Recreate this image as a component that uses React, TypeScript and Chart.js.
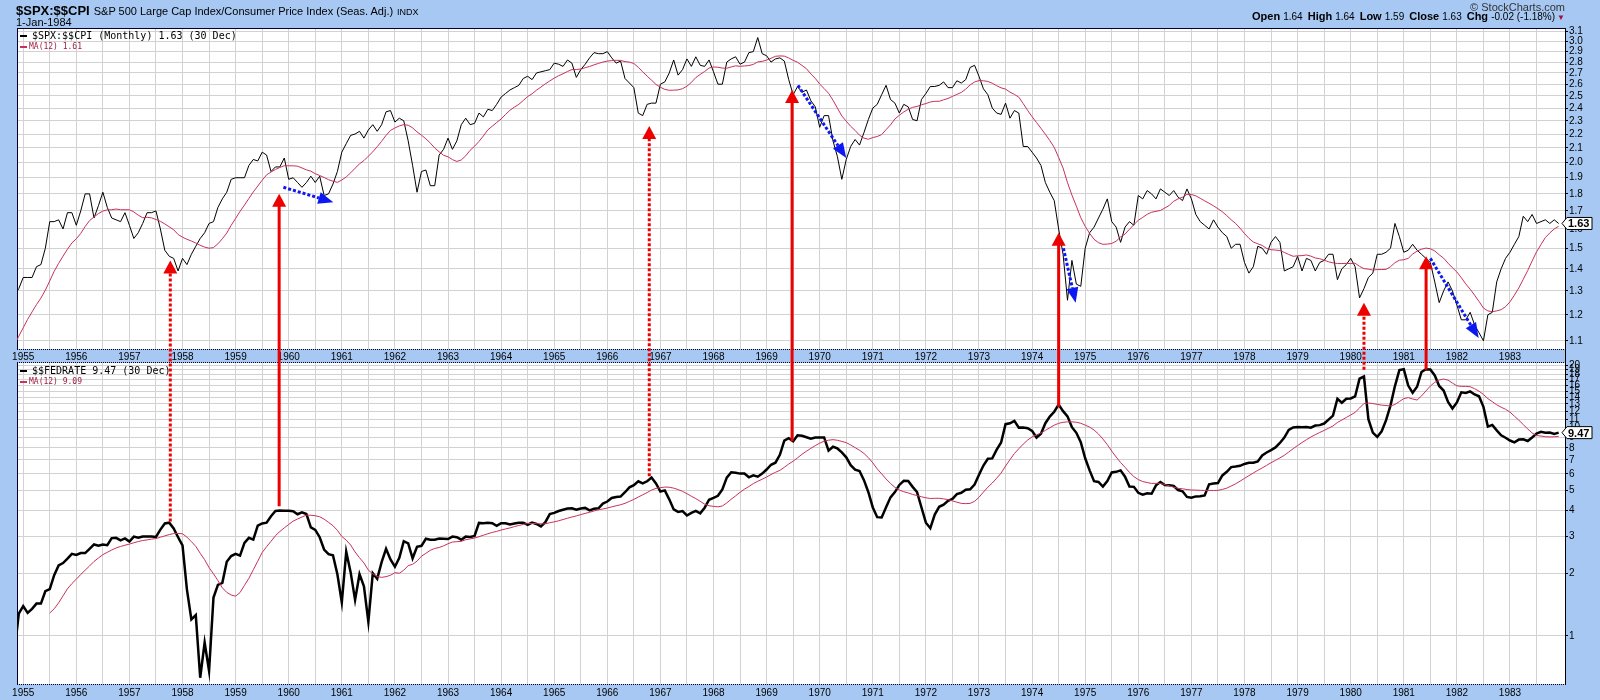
import React, { useEffect, useRef } from 'react';
import { Chart, registerables } from 'chart.js';

Chart.register(...registerables);

// ---------------- data ----------------
const ratioStartYear = 1953;
const ratioStartMonth = 12;
const ratioValues: number[] = [
  0.92,
  0.97, 0.97, 1.00, 1.05, 1.09, 1.09, 1.15, 1.11, 1.20, 1.18, 1.28, 1.31,
  1.36, 1.36, 1.36, 1.41, 1.42, 1.50, 1.64, 1.64, 1.65, 1.60, 1.69, 1.69,
  1.62, 1.70, 1.80, 1.80, 1.66, 1.73, 1.81, 1.72, 1.66, 1.65, 1.64, 1.69,
  1.62, 1.55, 1.58, 1.63, 1.69, 1.69, 1.70, 1.60, 1.49, 1.46, 1.45, 1.39,
  1.45, 1.42, 1.47, 1.51, 1.55, 1.58, 1.63, 1.64, 1.72, 1.77, 1.81, 1.89,
  1.90, 1.90, 1.90, 1.98, 2.02, 2.01, 2.07, 2.05, 1.94, 1.97, 1.97, 2.03,
  1.89, 1.90, 1.87, 1.84, 1.87, 1.91, 1.87, 1.91, 1.79, 1.80, 1.86, 1.94,
  2.07, 2.13, 2.19, 2.20, 2.22, 2.17, 2.23, 2.27, 2.22, 2.27, 2.37, 2.38,
  2.29, 2.32, 2.30, 2.15, 1.98, 1.81, 1.94, 1.95, 1.85, 1.85, 2.05, 2.09,
  2.17, 2.09, 2.15, 2.27, 2.32, 2.27, 2.28, 2.36, 2.33, 2.39, 2.38, 2.43,
  2.49, 2.52, 2.55, 2.57, 2.59, 2.65, 2.67, 2.64, 2.70, 2.71, 2.72, 2.73,
  2.79, 2.78, 2.76, 2.82, 2.79, 2.66, 2.73, 2.78, 2.84, 2.89, 2.88, 2.88,
  2.90, 2.84, 2.79, 2.81, 2.65, 2.61, 2.57, 2.36, 2.34, 2.43, 2.44, 2.44,
  2.60, 2.62, 2.70, 2.82, 2.68, 2.73, 2.83, 2.76, 2.85, 2.77, 2.76, 2.82,
  2.71, 2.60, 2.60, 2.80, 2.83, 2.85, 2.78, 2.80, 2.89, 2.90, 3.04, 2.88,
  2.86, 2.80, 2.83, 2.84, 2.81, 2.64, 2.51, 2.58, 2.53, 2.55, 2.46, 2.41,
  2.25, 2.34, 2.34, 2.15, 2.04, 1.89, 2.02, 2.11, 2.16, 2.12, 2.21, 2.31,
  2.40, 2.43, 2.51, 2.59, 2.47, 2.44, 2.36, 2.43, 2.41, 2.31, 2.30, 2.47,
  2.52, 2.58, 2.58, 2.59, 2.62, 2.57, 2.57, 2.63, 2.61, 2.64, 2.75, 2.77,
  2.67, 2.56, 2.51, 2.40, 2.36, 2.35, 2.44, 2.32, 2.38, 2.36, 2.11, 2.11,
  2.07, 2.03, 1.98, 1.87, 1.81, 1.76, 1.60, 1.47, 1.26, 1.44, 1.33, 1.32,
  1.50, 1.58, 1.61, 1.66, 1.71, 1.77, 1.64, 1.61, 1.53, 1.61, 1.64, 1.62,
  1.79, 1.77, 1.82, 1.80, 1.77, 1.83, 1.81, 1.79, 1.82, 1.78, 1.76, 1.83,
  1.77, 1.68, 1.64, 1.62, 1.60, 1.65, 1.61, 1.58, 1.56, 1.50, 1.52, 1.52,
  1.43, 1.38, 1.41, 1.51, 1.50, 1.47, 1.53, 1.56, 1.53, 1.39, 1.40, 1.41,
  1.46, 1.39, 1.45, 1.44, 1.39, 1.43, 1.44, 1.47, 1.47, 1.35, 1.40, 1.42,
  1.45, 1.41, 1.27, 1.31, 1.36, 1.38, 1.47, 1.47, 1.48, 1.50, 1.63, 1.56,
  1.48, 1.49, 1.52, 1.49, 1.47, 1.45, 1.43, 1.34, 1.25, 1.30, 1.34, 1.30,
  1.24, 1.18, 1.18, 1.21, 1.16, 1.13, 1.10, 1.20, 1.21, 1.34, 1.40, 1.45,
  1.48, 1.52, 1.56, 1.67, 1.64, 1.68, 1.63, 1.64, 1.65, 1.63, 1.65, 1.63,
];

const fedStartYear = 1954;
const fedStartMonth = 8;
const fedValues: number[] = [
  1.22, 1.07, 0.85, 0.83, 1.28,
  1.39, 1.29, 1.35, 1.43, 1.43, 1.64, 1.68, 1.96, 2.18, 2.24, 2.35, 2.48,
  2.45, 2.50, 2.50, 2.62, 2.75, 2.71, 2.75, 2.73, 2.95, 2.96, 2.88, 2.94,
  2.84, 3.00, 2.96, 3.00, 3.00, 3.00, 2.99, 3.24, 3.47, 3.50, 3.28, 2.98,
  2.72, 1.67, 1.20, 1.26, 0.63, 0.93, 0.68, 1.53, 1.76, 1.80, 2.27, 2.42,
  2.48, 2.43, 2.80, 2.96, 2.90, 3.39, 3.47, 3.50, 3.76, 3.98, 4.00, 3.99,
  3.99, 3.97, 3.84, 3.92, 3.85, 3.32, 3.23, 2.98, 2.60, 2.47, 2.44, 1.98,
  1.45, 2.54, 2.02, 1.49, 1.98, 1.73, 1.17, 2.00, 1.88, 2.26, 2.62, 2.33,
  2.15, 2.37, 2.85, 2.78, 2.36, 2.68, 2.71, 2.93, 2.90, 2.90, 2.94, 2.93,
  2.92, 3.00, 2.98, 2.90, 3.00, 2.99, 3.02, 3.49, 3.48, 3.50, 3.48, 3.38,
  3.48, 3.48, 3.43, 3.47, 3.50, 3.50, 3.42, 3.50, 3.45, 3.36, 3.52, 3.85,
  3.90, 3.98, 4.04, 4.09, 4.10, 4.04, 4.09, 4.12, 4.01, 4.08, 4.10, 4.32,
  4.42, 4.60, 4.65, 4.67, 4.90, 5.17, 5.30, 5.53, 5.40, 5.53, 5.76, 5.40,
  4.94, 5.00, 4.53, 4.05, 3.94, 3.98, 3.79, 3.90, 3.99, 3.88, 4.13, 4.51,
  4.60, 4.71, 5.05, 5.76, 6.11, 6.07, 6.02, 6.03, 5.78, 5.91, 5.82, 6.02,
  6.30, 6.64, 6.79, 7.41, 8.67, 8.90, 8.61, 9.19, 9.15, 9.00, 8.85, 8.97,
  8.98, 8.98, 7.76, 8.10, 7.95, 7.61, 7.21, 6.61, 6.29, 6.20, 5.60, 4.90,
  4.14, 3.72, 3.71, 4.15, 4.63, 4.91, 5.31, 5.56, 5.55, 5.20, 4.91, 4.14,
  3.50, 3.29, 3.83, 4.17, 4.27, 4.46, 4.55, 4.80, 4.87, 5.04, 5.06, 5.33,
  5.94, 6.58, 7.09, 7.12, 7.84, 8.49, 10.40, 10.50, 10.78, 10.01, 10.03, 9.95,
  9.65, 8.97, 9.35, 10.51, 11.31, 11.93, 12.92, 12.01, 11.34, 10.06, 9.45, 8.53,
  7.13, 6.24, 5.54, 5.49, 5.22, 5.55, 6.10, 6.14, 6.24, 5.82, 5.22, 5.20,
  4.87, 4.77, 4.84, 4.82, 5.29, 5.48, 5.31, 5.29, 5.25, 5.02, 4.95, 4.65,
  4.61, 4.68, 4.69, 4.73, 5.35, 5.39, 5.42, 5.90, 6.14, 6.47, 6.51, 6.56,
  6.70, 6.78, 6.79, 6.89, 7.36, 7.60, 7.81, 8.04, 8.45, 8.96, 9.76, 10.03,
  10.07, 10.06, 10.09, 10.01, 10.24, 10.29, 10.47, 10.94, 11.43, 13.77, 13.18, 13.78,
  13.82, 14.13, 17.19, 17.61, 10.98, 9.47, 9.03, 9.61, 10.87, 12.81, 15.85, 18.90,
  19.08, 15.93, 14.70, 15.72, 18.52, 19.10, 19.04, 17.82, 15.87, 15.08, 13.31, 12.37,
  13.22, 14.78, 14.68, 14.94, 14.45, 14.15, 12.59, 10.12, 10.31, 9.71, 9.20, 8.95,
  8.68, 8.51, 8.77, 8.80, 8.63, 8.98, 9.37, 9.56, 9.45, 9.48, 9.34, 9.47,
];

const maPeriod = 12;

const yearLabels = [
  1955, 1956, 1957, 1958, 1959, 1960, 1961, 1962, 1963, 1964, 1965, 1966, 1967, 1968, 1969,
  1970, 1971, 1972, 1973, 1974, 1975, 1976, 1977, 1978, 1979, 1980, 1981, 1982, 1983,
];
const ratioTicks = [1.1, 1.2, 1.3, 1.4, 1.5, 1.6, 1.7, 1.8, 1.9, 2.0, 2.1, 2.2, 2.3, 2.4, 2.5, 2.6, 2.7, 2.8, 2.9, 3.0, 3.1];
const fedTicks = [1, 2, 3, 4, 5, 6, 7, 8, 9, 10, 11, 12, 13, 14, 15, 16, 17, 18, 19, 20];

const xMin = 1954.883;
const xMax = 1984.036;
const ratioMin = 1.07;
const ratioMax = 3.139;
const fedMin = 0.588;
const fedMax = 20.45;

// red arrows: from a FEDRATE value (lower panel) up to a ratio value (upper panel)
const redArrowDate = [1957.77, 1959.82, 1966.79, 1969.48, 1974.5, 1980.25, 1981.42];
const redArrowFrom = [3.55, 4.2, 5.85, 8.6, 12.6, 19.0, 19.0];
const redArrowTo = [1.44, 1.8, 2.26, 2.55, 1.58, 1.25, 1.46];
const redArrowDotted = [true, false, true, false, false, true, false];

// blue dotted arrows in the upper panel
const blueFromDate = [1959.9, 1969.59, 1974.59, 1981.5];
const blueFromValue = [1.84, 2.59, 1.5, 1.45];
const blueToDate = [1960.84, 1970.5, 1974.82, 1982.41];
const blueToValue = [1.75, 2.03, 1.25, 1.11];

// texts
const titleSymbol = '$SPX:$$CPI';
const titleName = 'S&P 500 Large Cap Index/Consumer Price Index (Seas. Adj.)';
const titleExchange = 'INDX';
const titleDate = '1-Jan-1984';
const creditText = '\u00a9 StockCharts.com';
const quoteLabels = ['Open', 'High', 'Low', 'Close', 'Chg'];
const quoteValues = ['1.64', '1.64', '1.59', '1.63', '-0.02 (-1.18%)'];
const legendTop = ['$SPX:$$CPI (Monthly) 1.63 (30 Dec)', 'MA(12) 1.61'];
const legendBottom = ['$$FEDRATE 9.47 (30 Dec)', 'MA(12) 9.09'];

// ---------------- styling ----------------
const BG = '#a6c8f2';
const GRID = '#d2d2d2';
const RED = '#ec0000';
const BLUE = '#0b18f2';
const MA_COLOR = '#c8325a';
const MA_TEXT = '#9c1c3c';
const SANS = "'Liberation Sans', Arial, sans-serif";
const MONO = "'DejaVu Sans Mono', monospace";

function monthSeries(year: number, month: number, values: number[]) {
  const x0 = year + (month - 1) / 12;
  return values.map((v, i) => ({ x: x0 + i / 12, y: v }));
}

function movingAverage(points: { x: number; y: number }[], n: number) {
  return points.map((p, i) => {
    if (i < n - 1) return { x: p.x, y: null as any };
    let s = 0;
    for (let k = i - n + 1; k <= i; k++) s += points[k].y;
    return { x: p.x, y: s / n };
  });
}

const halfYearTicks = yearLabels.flatMap((y) => [y, y + 0.5]);

const panelDecor = {
  id: 'panelDecor',
  beforeDraw(chart: any) {
    const { ctx, chartArea: ca, scales } = chart;
    const t = scales.yTop;
    const b = scales.yBot;
    ctx.save();
    ctx.fillStyle = '#ffffff';
    ctx.fillRect(ca.left, t.top, ca.right - ca.left, t.bottom - t.top);
    ctx.fillRect(ca.left, b.top, ca.right - ca.left, b.bottom - b.top);
    ctx.restore();
  },
  beforeDatasetsDraw(chart: any) {
    const { ctx, chartArea: ca, scales } = chart;
    const g = scales.yGap;
    const x = scales.x;
    const t = scales.yTop;
    const b = scales.yBot;
    ctx.save();
    ctx.fillStyle = BG;
    ctx.fillRect(ca.left, g.top, ca.right - ca.left, g.bottom - g.top);
    // dotted band borders
    ctx.strokeStyle = '#00002a';
    ctx.lineWidth = 1;
    ctx.setLineDash([1, 1]);
    ctx.beginPath();
    [g.top + 0.5, g.bottom - 0.5, ca.bottom + 0.5].forEach((yy: number) => {
      ctx.moveTo(ca.left, yy);
      ctx.lineTo(ca.right, yy);
    });
    ctx.stroke();
    ctx.setLineDash([]);
    // solid borders
    ctx.beginPath();
    ctx.moveTo(ca.left + 0.5, t.top);
    ctx.lineTo(ca.left + 0.5, t.bottom);
    ctx.moveTo(ca.left + 0.5, b.top);
    ctx.lineTo(ca.left + 0.5, b.bottom);
    ctx.moveTo(ca.left, t.top + 0.5);
    ctx.lineTo(ca.right, t.top + 0.5);
    ctx.stroke();
    // year labels in the middle band
    ctx.fillStyle = '#000';
    ctx.font = `10px ${SANS}`;
    ctx.textAlign = 'center';
    ctx.textBaseline = 'middle';
    yearLabels.forEach((yr) => {
      ctx.fillText(String(yr), x.getPixelForValue(yr), (g.top + g.bottom) / 2 + 1);
    });
    ctx.restore();
  },
  afterDatasetsDraw(chart: any) {
    const { ctx, chartArea: ca, scales } = chart;
    const x = scales.x;
    const t = scales.yTop;
    const b = scales.yBot;
    ctx.save();

    // legends
    const drawLegend = (top: number, lines: string[], mainColor: string) => {
      ctx.fillStyle = mainColor;
      ctx.fillRect(ca.left + 3, top + 7, 7, 2);
      ctx.fillStyle = MA_COLOR;
      ctx.fillRect(ca.left + 3, top + 18, 7, 2);
      ctx.textAlign = 'left';
      ctx.textBaseline = 'middle';
      ctx.fillStyle = '#000';
      ctx.font = `10px ${MONO}`;
      ctx.fillText(lines[0], ca.left + 15, top + 8);
      ctx.fillStyle = MA_TEXT;
      ctx.font = `8px ${MONO}`;
      ctx.fillText(lines[1], ca.left + 12, top + 19);
    };
    drawLegend(t.top, legendTop, '#000');
    drawLegend(b.top, legendBottom, '#000');

    // red arrows
    ctx.strokeStyle = RED;
    ctx.fillStyle = RED;
    ctx.lineWidth = 3;
    redArrowDate.forEach((d, i) => {
      const px = x.getPixelForValue(d);
      const y0 = b.getPixelForValue(redArrowFrom[i]);
      const y1 = t.getPixelForValue(redArrowTo[i]);
      ctx.setLineDash(redArrowDotted[i] ? [3, 2] : []);
      ctx.beginPath();
      ctx.moveTo(px, y0);
      ctx.lineTo(px, y1 + 11);
      ctx.stroke();
      ctx.setLineDash([]);
      ctx.beginPath();
      ctx.moveTo(px, y1);
      ctx.lineTo(px - 7, y1 + 13);
      ctx.lineTo(px + 7, y1 + 13);
      ctx.closePath();
      ctx.fill();
    });

    // blue arrows
    ctx.strokeStyle = BLUE;
    ctx.fillStyle = BLUE;
    blueFromDate.forEach((d, i) => {
      const x0 = x.getPixelForValue(d);
      const y0 = t.getPixelForValue(blueFromValue[i]);
      const x1 = x.getPixelForValue(blueToDate[i]);
      const y1 = t.getPixelForValue(blueToValue[i]);
      const len = Math.hypot(x1 - x0, y1 - y0);
      const ux = (x1 - x0) / len;
      const uy = (y1 - y0) / len;
      const head = 15;
      const hw = 6;
      ctx.setLineDash([3, 2]);
      ctx.beginPath();
      ctx.moveTo(x0, y0);
      ctx.lineTo(x1 - ux * head, y1 - uy * head);
      ctx.stroke();
      ctx.setLineDash([]);
      const bx = x1 - ux * head;
      const by = y1 - uy * head;
      ctx.beginPath();
      ctx.moveTo(x1, y1);
      ctx.lineTo(bx - uy * hw, by + ux * hw);
      ctx.lineTo(bx + uy * hw, by - ux * hw);
      ctx.closePath();
      ctx.fill();
    });

    // last value tags
    const tag = (y: number, text: string) => {
      const xl = ca.right;
      ctx.beginPath();
      ctx.moveTo(xl - 3, y);
      ctx.lineTo(xl + 2, y - 6);
      ctx.lineTo(xl + 27, y - 6);
      ctx.lineTo(xl + 27, y + 6);
      ctx.lineTo(xl + 2, y + 6);
      ctx.closePath();
      ctx.fillStyle = '#fff';
      ctx.fill();
      ctx.strokeStyle = '#000';
      ctx.lineWidth = 1;
      ctx.stroke();
      ctx.fillStyle = '#000';
      ctx.font = `bold 11px ${SANS}`;
      ctx.textAlign = 'left';
      ctx.textBaseline = 'middle';
      ctx.fillText(text, xl + 3, y + 1);
    };
    const lastRatio = ratioValues[ratioValues.length - 1];
    const lastFed = fedValues[fedValues.length - 1];
    tag(t.getPixelForValue(lastRatio), lastRatio.toFixed(2));
    tag(b.getPixelForValue(lastFed), lastFed.toFixed(2));

    ctx.restore();
  },
};

export default function App() {
  const canvasRef = useRef<HTMLCanvasElement | null>(null);

  useEffect(() => {
    const canvas = canvasRef.current;
    if (!canvas) return;
    const ratioPts = monthSeries(ratioStartYear, ratioStartMonth, ratioValues);
    const fedPts = monthSeries(fedStartYear, fedStartMonth, fedValues);
    const ratioMA = movingAverage(ratioPts, maPeriod);
    const fedMA = movingAverage(fedPts, maPeriod);

    const yCommon = (ticksArr: number[], fmt: (v: number) => string) => ({
      type: 'logarithmic',
      position: 'right',
      stack: 'panels',
      afterFit: (s: any) => {
        s.width = 35;
      },
      afterBuildTicks: (s: any) => {
        s.ticks = ticksArr.map((v) => ({ value: v }));
      },
      grid: { color: GRID, lineWidth: 1, tickColor: '#000', tickLength: 3, drawTicks: true },
      border: { display: true, color: '#000', width: 1 },
      ticks: {
        autoSkip: false,
        padding: 1,
        color: '#000',
        font: { family: SANS, size: 10 },
        callback: (v: any) => fmt(Number(v)),
      },
    });

    const chart = new Chart(canvas, {
      type: 'line',
      data: {
        datasets: [
          {
            data: ratioMA as any,
            yAxisID: 'yTop',
            borderColor: MA_COLOR,
            borderWidth: 1,
            pointRadius: 0,
            tension: 0,
            spanGaps: false,
          },
          {
            data: ratioPts as any,
            yAxisID: 'yTop',
            borderColor: '#000',
            borderWidth: 1,
            pointRadius: 0,
            tension: 0,
          },
          {
            data: fedMA as any,
            yAxisID: 'yBot',
            borderColor: MA_COLOR,
            borderWidth: 1,
            pointRadius: 0,
            tension: 0,
            spanGaps: false,
          },
          {
            data: fedPts as any,
            yAxisID: 'yBot',
            borderColor: '#000',
            borderWidth: 2.5,
            pointRadius: 0,
            tension: 0,
          },
        ],
      },
      options: {
        animation: false,
        responsive: false,
        devicePixelRatio: 1,
        events: [],
        layout: { padding: { left: 17, top: 28, right: 0, bottom: 0 } },
        plugins: { legend: { display: false }, tooltip: { enabled: false } },
        scales: {
          x: {
            type: 'linear',
            position: 'bottom',
            min: xMin,
            max: xMax,
            afterFit: (s: any) => {
              s.height = 16;
            },
            afterBuildTicks: (s: any) => {
              s.ticks = halfYearTicks.map((v) => ({ value: v }));
            },
            grid: { color: GRID, lineWidth: 1, drawTicks: false },
            border: { display: false },
            ticks: {
              autoSkip: false,
              maxRotation: 0,
              minRotation: 0,
              padding: 3,
              color: '#000',
              font: { family: SANS, size: 10 },
              callback: (v: any) => (Number.isInteger(Number(v)) ? String(v) : ''),
            },
          },
          yTop: {
            ...yCommon(ratioTicks, (v) => v.toFixed(1)),
            min: ratioMin,
            max: ratioMax,
            stackWeight: 321,
            weight: 0,
          },
          yGap: {
            type: 'linear',
            position: 'right',
            stack: 'panels',
            stackWeight: 14,
            weight: 1,
            afterFit: (s: any) => {
              s.width = 35;
            },
            grid: { display: false, drawTicks: false },
            border: { display: true, color: '#000', width: 1 },
            ticks: { display: false },
          },
          yBot: {
            ...yCommon(fedTicks, (v) => String(v)),
            min: fedMin,
            max: fedMax,
            stackWeight: 321,
            weight: 2,
          },
        } as any,
      },
      plugins: [panelDecor],
    } as any);

    return () => chart.destroy();
  }, []);

  return (
    <div
      style={{
        position: 'absolute',
        left: 0,
        top: 0,
        width: 1600,
        height: 700,
        background: BG,
        overflow: 'hidden',
        fontFamily: SANS,
        color: '#000',
      }}
    >
      <canvas ref={canvasRef} width={1600} height={700} style={{ position: 'absolute', left: 0, top: 0, width: 1600, height: 700 }} />
      <div style={{ position: 'absolute', left: 16, top: 3, whiteSpace: 'nowrap', lineHeight: '13px' }}>
        <span style={{ fontWeight: 'bold', fontSize: 13 }}>{titleSymbol}</span>
        <span style={{ fontSize: 11, marginLeft: 4 }}>{titleName}</span>
        <span style={{ fontSize: 9, marginLeft: 4 }}>{titleExchange}</span>
      </div>
      <div style={{ position: 'absolute', left: 16, top: 17, fontSize: 11, lineHeight: '11px', whiteSpace: 'nowrap' }}>{titleDate}</div>
      <div style={{ position: 'absolute', right: 35, top: 2, fontSize: 11, lineHeight: '11px', color: '#333', whiteSpace: 'nowrap' }}>
        {creditText}
      </div>
      <div style={{ position: 'absolute', right: 35, top: 11, fontSize: 11, lineHeight: '11px', whiteSpace: 'nowrap' }}>
        {quoteLabels.map((l, i) => (
          <span key={l} style={{ marginLeft: i === 0 ? 0 : 5 }}>
            <b>{l}</b> <span style={{ fontSize: 10 }}>{quoteValues[i]}</span>
          </span>
        ))}
        <span style={{ color: '#a0103a', fontSize: 8, marginLeft: 2 }}>{'\u25BC'}</span>
      </div>
    </div>
  );
}
